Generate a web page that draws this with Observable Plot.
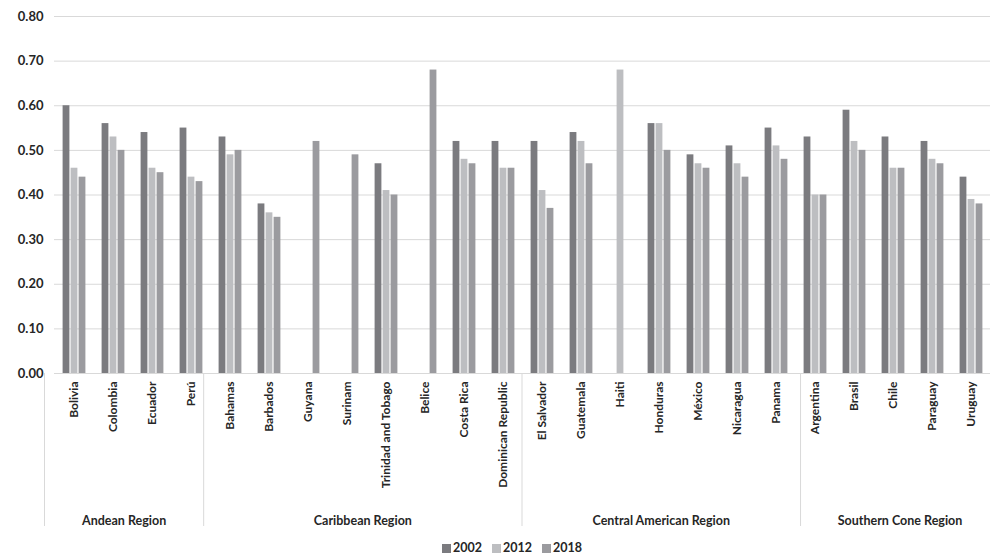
<!DOCTYPE html>
<html>
<head>
<meta charset="utf-8">
<script src="https://cdn.jsdelivr.net/npm/d3@7"></script>
<script src="https://cdn.jsdelivr.net/npm/@observablehq/plot@0.6"></script>
<style>
  html, body { margin: 0; padding: 0; background: #fff; overflow: hidden; }
  #chart { position: relative; width: 999px; height: 555px; font-family: Lato, sans-serif; }
  #chart svg { position: absolute; left: 0; top: 0; overflow: visible; }
  #legend { position: absolute; left: 442px; top: 540px; display: flex; gap: 10px;
            font: bold 12.5px Lato, sans-serif; color: #262626; line-height: 16px; }
  #legend span.item { display: flex; align-items: center; gap: 2px; }
  #legend span.sw { display: inline-block; width: 9px; height: 9px; }
</style>
</head>
<body>
<div id="chart"></div>
<script>
// Regions and their countries, in display order
const regions = ["Andean Region", "Caribbean Region", "Central American Region", "Southern Cone Region"];
const regionCountries = [
  ["Bolivia", "Colombia", "Ecuador", "Perú"],
  ["Bahamas", "Barbados", "Guyana", "Surinam", "Trinidad and Tobago", "Belice", "Costa Rica", "Dominican Republic"],
  ["El Salvador", "Guatemala", "Haiti", "Honduras", "México", "Nicaragua", "Panama"],
  ["Argentina", "Brasil", "Chile", "Paraguay", "Uruguay"]
];
const years = ["2002", "2012", "2018"];

// Index values per country (null = no data for that year)
const values2002 = [0.60, 0.56, 0.54, 0.55,
                    0.53, 0.38, null, null, 0.47, null, 0.52, 0.52,
                    0.52, 0.54, null, 0.56, 0.49, 0.51, 0.55,
                    0.53, 0.59, 0.53, 0.52, 0.44];
const values2012 = [0.46, 0.53, 0.46, 0.44,
                    0.49, 0.36, null, null, 0.41, null, 0.48, 0.46,
                    0.41, 0.52, 0.68, 0.56, 0.47, 0.47, 0.51,
                    0.40, 0.52, 0.46, 0.48, 0.39];
const values2018 = [0.44, 0.50, 0.45, 0.43,
                    0.50, 0.35, 0.52, 0.49, 0.40, 0.68, 0.47, 0.46,
                    0.37, 0.47, null, 0.50, 0.46, 0.44, 0.48,
                    0.40, 0.50, 0.46, 0.47, 0.38];
const yTicks = [0, 0.1, 0.2, 0.3, 0.4, 0.5, 0.6, 0.7, 0.8];
const colors = ["#7b7b7f", "#bdbec1", "#9b9b9f"];

const countries = regionCountries.flat();
const series = [values2002, values2012, values2018];
const rows = [];
countries.forEach((c, i) => {
  years.forEach((yr, j) => {
    const v = series[j][i];
    if (v != null) rows.push({country: c, year: yr, value: v});
  });
});

// Region spans in country-index units, for the grouped lower axis
let start = 0;
const spans = regions.map((r, k) => {
  const s = {region: r, start, end: start + regionCountries[k].length};
  start = s.end;
  return s;
});

const W = 999, H = 538, ML = 44, MR = 0, MT = 16, MB = 165;
const font = "Lato, sans-serif";
const ink = "#262626";

const main = Plot.plot({
  width: W, height: H,
  marginLeft: ML, marginRight: MR, marginTop: MT, marginBottom: MB,
  style: {fontFamily: font, fontSize: "12px", fontWeight: "bold", color: ink, background: "transparent"},
  fx: {domain: countries, padding: 0, label: null},
  x: {domain: years, paddingInner: 0, paddingOuter: 0.93, axis: null},
  y: {domain: [0, 0.8], axis: null, label: null},
  color: {domain: years, range: colors},
  marks: [
    Plot.gridY(yTicks, {stroke: "#d9d9d9", strokeOpacity: 1, strokeWidth: 1}),
    Plot.axisY(yTicks, {tickFormat: d3.format(".2f"), tickSize: 0, tickPadding: 0, dx: -11,
                        label: null, fontSize: 13, fontWeight: "bold", fill: ink}),
    Plot.axisFx({anchor: "bottom", tickSize: 0, tickPadding: 8, tickRotate: -90,
                 fontSize: 12, fontWeight: "bold", fill: ink, label: null}),
    Plot.barY(rows, {fx: "country", x: "year", y: "value", fill: "year",
                     insetLeft: 0.6, insetRight: 0.6}),
    Plot.ruleY([0], {stroke: "#d9d9d9", strokeWidth: 1})
  ]
});

// Region grouping: dividers and centred labels below the country names
const groups = Plot.plot({
  width: W, height: 526,
  marginLeft: ML, marginRight: MR, marginTop: 373, marginBottom: 0,
  style: {fontFamily: font, background: "transparent"},
  x: {domain: [0, countries.length], axis: null},
  y: {axis: null},
  marks: [
    Plot.ruleX(spans.map(s => s.start), {stroke: "#d9d9d9", strokeWidth: 1}),
    Plot.text(spans, {x: s => (s.start + s.end) / 2, text: "region", frameAnchor: "bottom",
                      dy: -2, fontSize: 12.5, fontWeight: "bold", fill: ink})
  ]
});

const chart = document.getElementById("chart");
chart.appendChild(main);
chart.appendChild(groups);

const legend = document.createElement("div");
legend.id = "legend";
years.forEach((yr, j) => {
  const item = document.createElement("span");
  item.className = "item";
  const sw = document.createElement("span");
  sw.className = "sw";
  sw.style.background = colors[j];
  item.appendChild(sw);
  item.appendChild(document.createTextNode(yr));
  legend.appendChild(item);
});
chart.appendChild(legend);
</script>
</body>
</html>
